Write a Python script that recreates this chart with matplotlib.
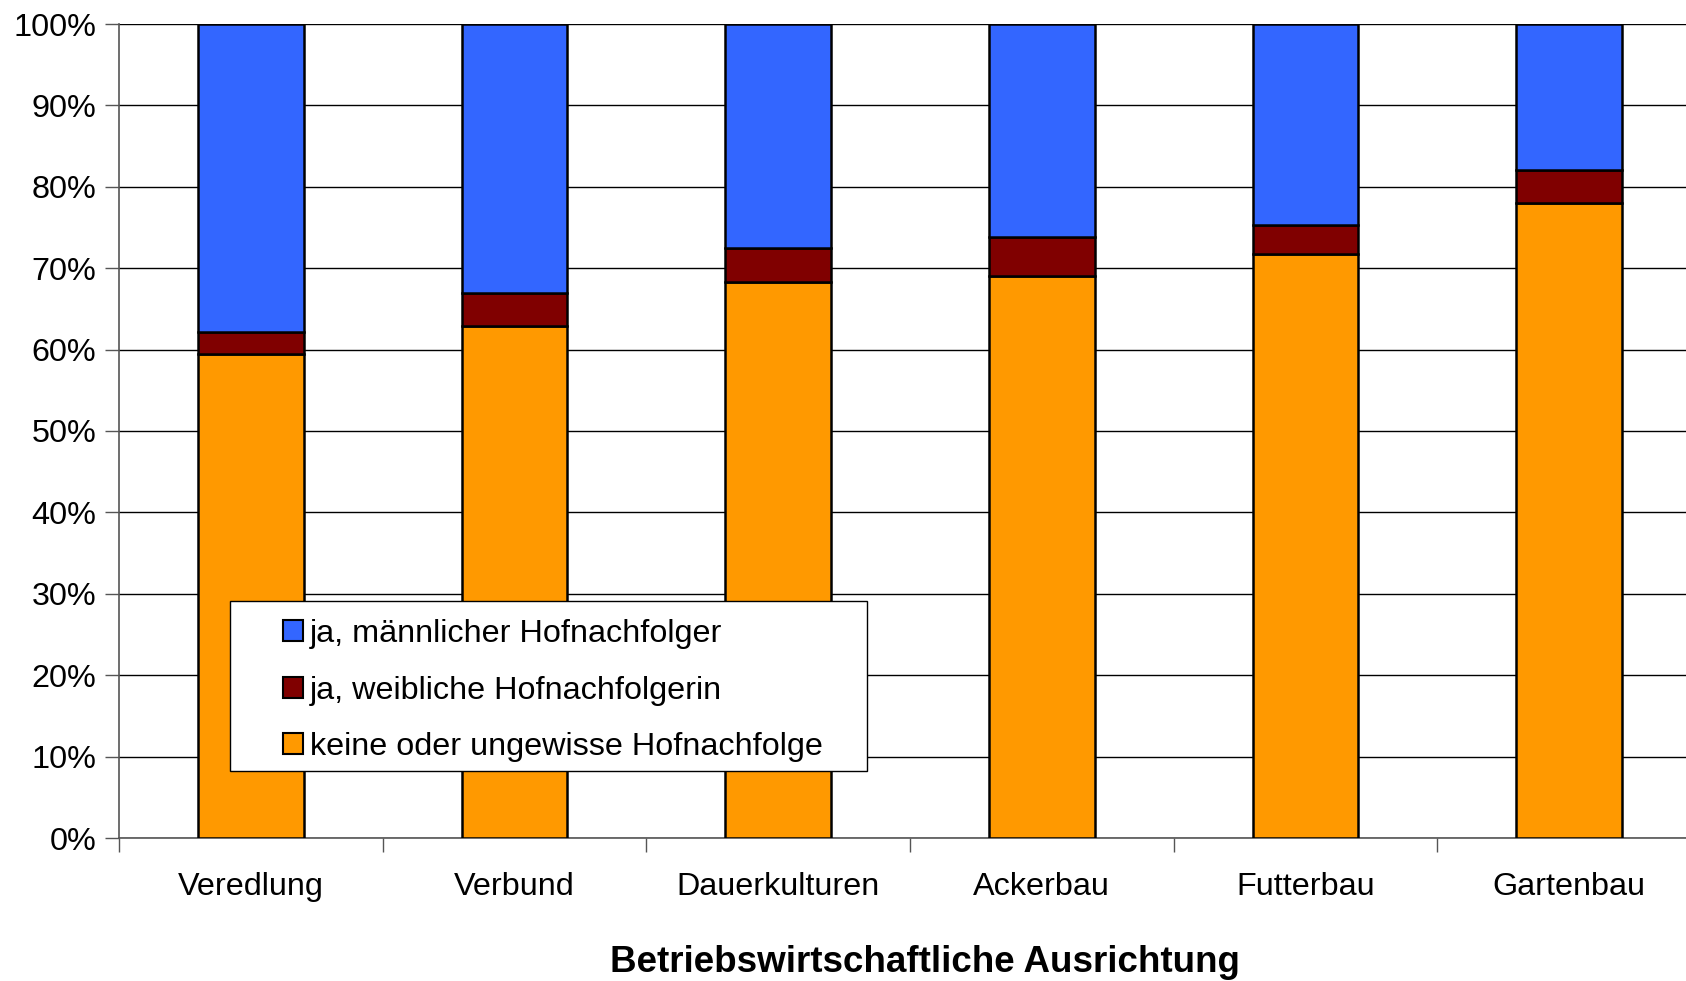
import matplotlib.pyplot as plt
import numpy as np
from matplotlib.patches import Rectangle, Patch
from matplotlib.ticker import FixedLocator

plt.rcParams['font.family'] = ['Liberation Sans', 'DejaVu Sans']

categories = ["Veredlung", "Verbund", "Dauerkulturen", "Ackerbau", "Futterbau", "Gartenbau"]
# shares in percent
keine = [59.4, 62.9, 68.3, 69.1, 71.7, 78.0]
weiblich = [2.8, 4.1, 4.2, 4.7, 3.6, 4.1]
maennlich = [100 - k - w for k, w in zip(keine, weiblich)]

labels = ["ja, männlicher Hofnachfolger", "ja, weibliche Hofnachfolgerin",
          "keine oder ungewisse Hofnachfolge"]
colors = ["#3366FF", "#800000", "#FF9900"]

fig = plt.figure(figsize=(16.86, 9.81), dpi=100)
ax = fig.add_axes([119 / 1686, 143 / 981, 1582 / 1686, 814 / 981])

x = np.arange(len(categories))
w = 0.4
ax.bar(x, keine, w, color=colors[2], edgecolor="black", linewidth=1.8, zorder=3)
ax.bar(x, weiblich, w, bottom=keine, color=colors[1], edgecolor="black", linewidth=1.8, zorder=3)
bottom2 = [k + f for k, f in zip(keine, weiblich)]
ax.bar(x, maennlich, w, bottom=bottom2, color=colors[0], edgecolor="black", linewidth=1.8, zorder=3)

ax.set_xlim(-0.5, len(categories) - 0.5)
ax.set_ylim(0, 100)
ax.set_yticks(np.arange(0, 101, 10))
ax.set_yticklabels([f"{v}%" for v in range(0, 101, 10)], fontsize=23.3)
ax.yaxis.grid(True, color="black", linewidth=1.0, zorder=0)
ax.set_axisbelow(True)

ax.set_xticks(x)
ax.set_xticklabels(categories, fontsize=23.3)
ax.tick_params(axis="x", which="major", length=0, pad=24.5)
ax.xaxis.set_minor_locator(FixedLocator(np.arange(-0.5, len(categories), 1.0)))
ax.tick_params(axis="x", which="minor", length=10, width=1, color="#555555")
ax.tick_params(axis="y", length=10, width=1, color="#555555", pad=6.5)

for s in ["top", "right"]:
    ax.spines[s].set_visible(False)
ax.spines["left"].set_color("#555555")
ax.spines["bottom"].set_color("#555555")
ax.spines["left"].set_linewidth(1.2)
ax.spines["bottom"].set_linewidth(1.2)

ax.set_xlabel("Betriebswirtschaftliche Ausrichtung", fontsize=26.5, fontweight="bold", va="center")
ax.xaxis.set_label_coords((925 - 119) / 1582, (838 - 963) / 814)

# legend box
box = Rectangle((230 / 1686, (981 - 771) / 981), 637 / 1686, 170 / 981, transform=fig.transFigure,
                facecolor="white", edgecolor="black", linewidth=1.0, zorder=4, clip_on=False)
ax.add_patch(box)
handles = [Patch(facecolor=c, edgecolor="black", linewidth=1.5) for c in colors]
leg = ax.legend(handles, labels, fontsize=23.3, frameon=False, loc="upper left",
                bbox_to_anchor=(283 / 1686, (981 - 619) / 981), bbox_transform=fig.transFigure,
                handlelength=0.62, handleheight=0.62, handletextpad=0.22, labelspacing=0.82,
                borderpad=0, borderaxespad=0)
leg.set_zorder(5)

fig.savefig("out.png", dpi=100)
